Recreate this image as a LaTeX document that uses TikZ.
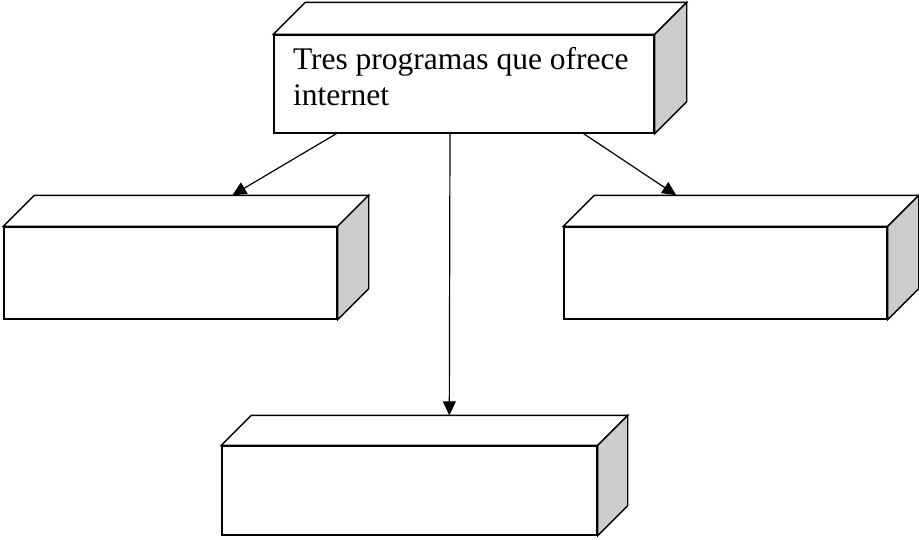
\documentclass[tikz,border=0pt]{standalone}
\usepackage{fontspec}
\setmainfont{Liberation Serif}
\usetikzlibrary{arrows.meta,positioning}

\begin{document}
\begin{tikzpicture}[x=1pt,y=-1pt,line width=1.4pt,
  front/.style={draw,fill=white,rectangle,inner sep=0pt},
  link/.style={line width=1.2pt,-{Triangle[length=14pt,width=13pt]}}]

  \useasboundingbox (0,0) rectangle (919,539);

  \node[front,minimum width=380pt,minimum height=98pt,text width=342pt,
        align=flush left,font=\fontsize{31.5}{36}\selectfont]
                       (prog)   at (464,84)    {Tres programas que ofrece\\internet\rule[-16pt]{0pt}{16pt}};
  \node[front,minimum width=333pt,minimum height=92pt] (left)   at (170.5,273) {};
  \node[front,minimum width=323pt,minimum height=92pt] (right)  at (725.5,273) {};
  \node[front,minimum width=375pt,minimum height=89pt] (bottom) at (409.5,490.5) {};

  % top and side faces
  \foreach \b/\d in {prog/32,left/31,right/31,bottom/30}{
    \draw[fill=white] (\b.north west) -- ++(\d,-\d)
      -- ([shift={(\d,-\d)}]\b.north east) -- (\b.north east) -- cycle;
    \draw[fill=gray!40] (\b.north east) -- ++(\d,-\d)
      -- ([shift={(\d,-\d)}]\b.south east) -- (\b.south east) -- cycle;
  }

  \path[link] ([xshift=63pt]prog.south west)  edge ([shift={(229,-31)}]left.north west)
              ([xshift=-71pt]prog.south east) edge ([shift={(113,-31)}]right.north west)
              ([xshift=-14pt]prog.south)      edge ([shift={(228,-30)}]bottom.north west);
\end{tikzpicture}
\end{document}
